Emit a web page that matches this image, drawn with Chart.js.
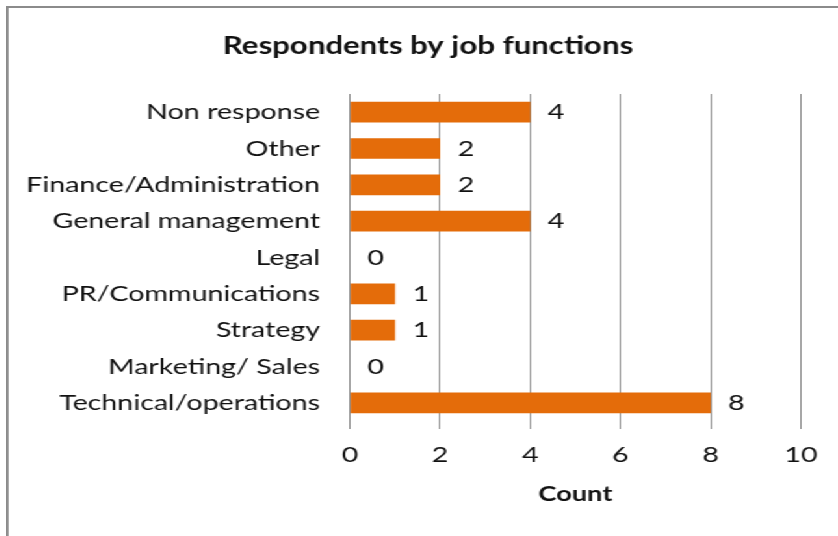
<!DOCTYPE html>
<html>
<head>
<meta charset="utf-8">
<script src="https://cdn.jsdelivr.net/npm/chart.js@4/dist/chart.umd.min.js"></script>
<style>
  html, body { margin: 0; padding: 0; background: #fff; overflow: hidden; width: 838px; height: 536px; }
  /* The chart frame; the whole drawing is widened horizontally */
  #frame {
    position: absolute; left: 6px; top: 6px;
    border-left: 2px solid #8b8b8b; border-top: 2px solid #8b8b8b;
    transform: scaleX(1.3); transform-origin: 0 0;
    background: #fff;
  }
  canvas { display: block; }
</style>
</head>
<body>
<div id="frame"><canvas id="c" width="647" height="540"></canvas></div>
<script>
// Job functions, listed top to bottom
const categories = [
  'Non response',
  'Other',
  'Finance/Administration',
  'General management',
  'Legal',
  'PR/Communications',
  'Strategy',
  'Marketing/ Sales',
  'Technical/operations'
];
// Number of respondents per job function
const counts = [4, 2, 2, 4, 0, 1, 1, 0, 8];
// Count axis
const countMin = 0;
const countMax = 10;
const countStep = 2;

const titleText = 'Respondents by job functions';
const axisTitle = 'Count';

const FONT = 'Lato';
const TEXT = '#111';
const BAR = '#E46C0A';
const GRID = '#8a8a8a';

// Writes each bar's count just past its end
const valueLabels = {
  id: 'valueLabels',
  afterDatasetsDraw(chart) {
    const ctx = chart.ctx;
    const meta = chart.getDatasetMeta(0);
    ctx.save();
    ctx.font = `22px ${FONT}`;
    ctx.fillStyle = TEXT;
    ctx.textAlign = 'left';
    ctx.textBaseline = 'middle';
    meta.data.forEach((bar, i) => {
      ctx.fillText(String(counts[i]), bar.x + 13.5, bar.y);
    });
    ctx.restore();
  }
};

new Chart(document.getElementById('c'), {
  type: 'bar',
  data: {
    labels: categories,
    datasets: [{
      data: counts,
      backgroundColor: BAR,
      borderWidth: 0,
      barPercentage: 0.57,
      categoryPercentage: 1.0
    }]
  },
  options: {
    indexAxis: 'y',
    responsive: false,
    animation: false,
    devicePixelRatio: 1,
    layout: { padding: { left: 35.7, right: 37.5, top: 0, bottom: 0 } },
    plugins: {
      legend: { display: false },
      tooltip: { enabled: false },
      title: {
        display: true,
        text: titleText,
        color: TEXT,
        font: { family: FONT, size: 24, weight: 'bold', lineHeight: 1.2 },
        padding: { top: 23.6, bottom: 33.6 }
      }
    },
    scales: {
      x: {
        type: 'linear',
        position: 'bottom',
        min: countMin,
        max: countMax,
        ticks: {
          stepSize: countStep,
          color: TEXT,
          padding: 12.8,
          font: { family: FONT, size: 22, lineHeight: 1.2 }
        },
        grid: { color: GRID, lineWidth: 1, drawTicks: true, tickLength: 8 },
        border: { display: false },
        title: {
          display: true,
          text: axisTitle,
          color: TEXT,
          font: { family: FONT, size: 21, weight: 'bold', lineHeight: 1.2 },
          padding: { top: 0, bottom: 41.4 }
        },
        afterFit(scale) { scale.height = 127; }
      },
      y: {
        type: 'category',
        position: 'left',
        ticks: {
          color: TEXT,
          padding: 23,
          autoSkip: false,
          font: { family: FONT, size: 22, lineHeight: 1.2 }
        },
        grid: { display: false, drawTicks: false },
        border: { display: false },
        afterFit(scale) {
          scale.width = 226.9;
          // long category names may reach past the axis box into the left margin
          scale._computeLabelArea = () => undefined;
        }
      }
    }
  },
  plugins: [valueLabels]
});
</script>
</body>
</html>
